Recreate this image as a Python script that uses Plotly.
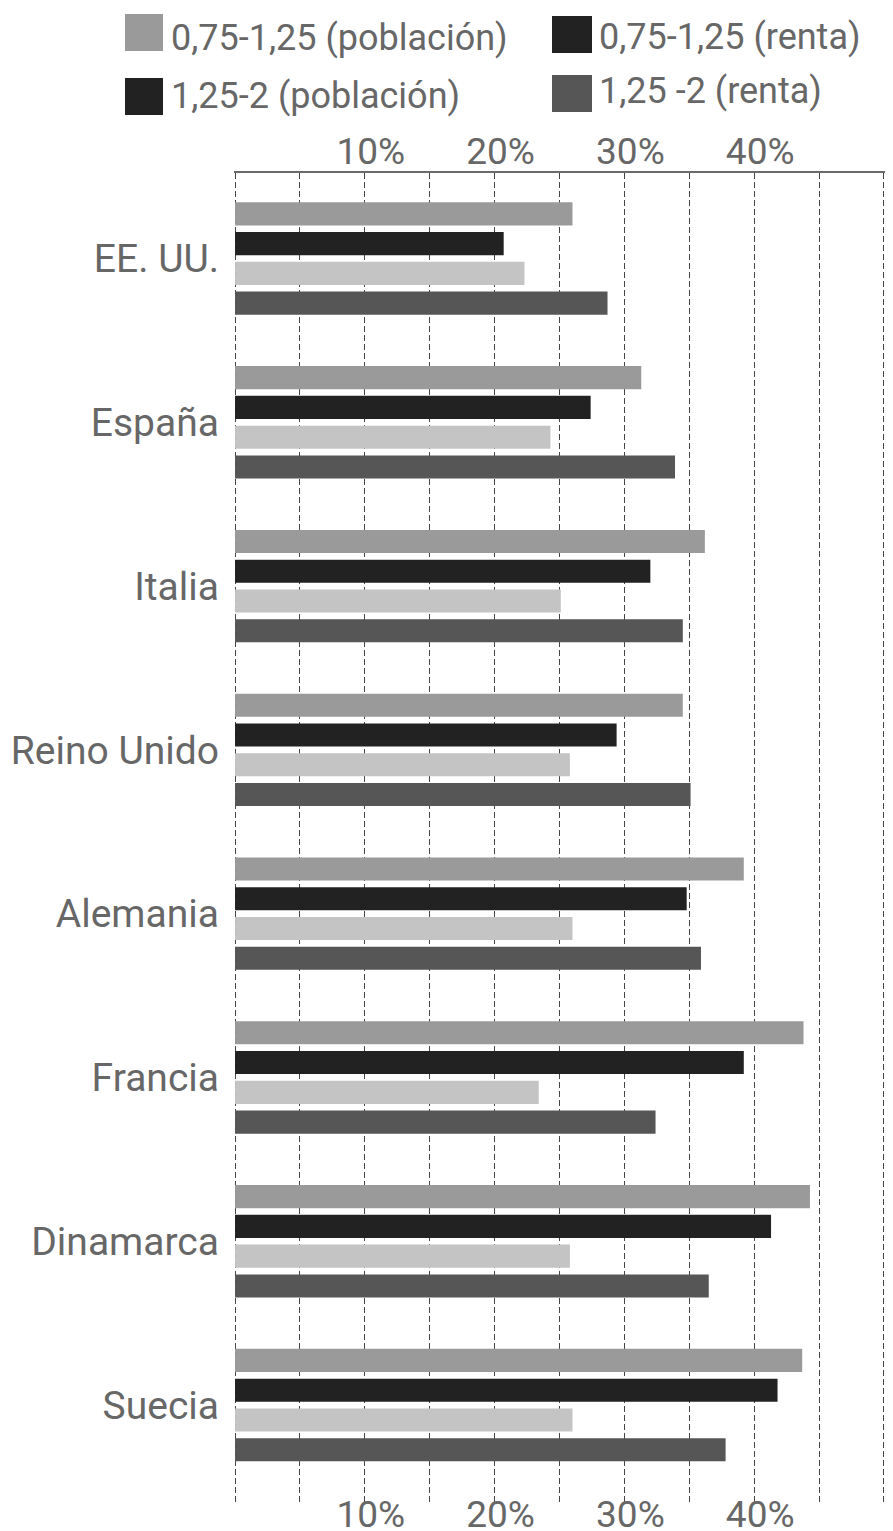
import plotly.graph_objects as go

# ---------------- data ----------------
countries = ["EE. UU.", "España", "Italia", "Reino Unido", "Alemania",
             "Francia", "Dinamarca", "Suecia"]
pob_075 = [26.0, 31.3, 36.2, 34.5, 39.2, 43.8, 44.3, 43.7]
renta_075 = [20.7, 27.4, 32.0, 29.4, 34.8, 39.2, 41.3, 41.8]
pob_125 = [22.3, 24.3, 25.1, 25.8, 26.0, 23.4, 25.8, 26.0]
renta_125 = [28.7, 33.9, 34.5, 35.1, 35.9, 32.4, 36.5, 37.8]
series_names = ["0,75-1,25 (población)", "0,75-1,25 (renta)",
                "1,25-2 (población)", "1,25 -2 (renta)"]
tick_vals = [0, 5, 10, 15, 20, 25, 30, 35, 40, 45, 50]
tick_text = ["", "", "10%", "", "20%", "", "30%", "", "40%", "", ""]

# ---------------- style ----------------
bar_colors = ["#9a9a9a", "#222222", "#c4c4c4", "#565656"]
legend_colors = ["#9a9a9a", "#222222", "#222222", "#565656"]
FONT = "Roboto"
TXT = "#676767"

# page has an 8px body margin: compensate so the screen positions match
OX, OY = 8, 8
SCREEN_W, SCREEN_H = 893, 1531
W, H = SCREEN_W - OX, SCREEN_H - OY
# plot area in screen pixels
PX0, PX1, PY0, PY1 = 234, 885, 173, 1503
L, R = PX0 - OX, W - (PX1 - OX)
T, B = PY0 - OY, H - (PY1 - OY)
PW, PH = PX1 - PX0, PY1 - PY0


def px_x(sx):
    return (sx - PX0) / PW


def px_y(sy):
    return (PY1 - sy) / PH


fig = go.Figure()
for name, vals, col in zip(series_names, [pob_075, renta_075, pob_125, renta_125], bar_colors):
    fig.add_trace(go.Bar(
        y=countries, x=vals, name=name, orientation="h",
        marker=dict(color=col, line=dict(width=0)),
        showlegend=False,
    ))

# invisible trace to carry the bottom axis
fig.add_trace(go.Scatter(x=[None], y=[None], xaxis="x2", yaxis="y",
                         showlegend=False, hoverinfo="skip"))

axis_common = dict(
    range=[-0.08, 50.08],
    tickmode="array", tickvals=tick_vals, ticktext=tick_text,
    tickfont=dict(family=FONT, size=37, color=TXT),
    ticklabelshift=6,
    zeroline=False,
    automargin=False,
)

fig.update_layout(
    width=W, height=H, autosize=False,
    margin=dict(l=L, r=R, t=T, b=B, pad=0, autoexpand=False),
    paper_bgcolor="white", plot_bgcolor="white",
    barmode="group", bargap=0.273, bargroupgap=0.225,
    xaxis=dict(
        side="top", showgrid=True, gridcolor="#454545", gridwidth=1.3,
        griddash="6px,3px",
        showline=True, linecolor="#6a6a6a", linewidth=2,
        ticks="", ticklabelstandoff=-8,
        **axis_common,
    ),
    xaxis2=dict(
        overlaying="x", side="bottom", showgrid=False, showline=False,
        ticks="", ticklabelstandoff=-14,
        **axis_common,
    ),
    yaxis=dict(
        type="category", categoryorder="array", categoryarray=countries,
        range=[7.598, -0.522], showgrid=False, zeroline=False, showline=False,
        ticks="", ticklabelstandoff=14, automargin=False,
        tickfont=dict(family=FONT, size=39, color=TXT),
    ),
    showlegend=False,
)

# ---------------- manual legend (large swatches), screen pixels ----------------
legend_items = [
    # (swatch x0, x1, y0, y1, text x, text y center)
    (125, 163, 14, 51, 169, 38),
    (552, 592, 16, 53, 597, 37),
    (125, 163, 78, 115, 169, 96),
    (552, 592, 75, 112, 597, 91),
]
for (x0, x1, y0, y1, tx, ty), name, col in zip(legend_items, series_names, legend_colors):
    fig.add_shape(type="rect", xref="paper", yref="paper",
                  x0=px_x(x0), x1=px_x(x1), y0=px_y(y1), y1=px_y(y0),
                  fillcolor=col, line=dict(width=0))
    fig.add_annotation(xref="paper", yref="paper", x=px_x(tx), y=px_y(ty),
                       text=name, showarrow=False, xanchor="left", yanchor="middle",
                       font=dict(family=FONT, size=36, color=TXT))

fig.write_html("out.html")
